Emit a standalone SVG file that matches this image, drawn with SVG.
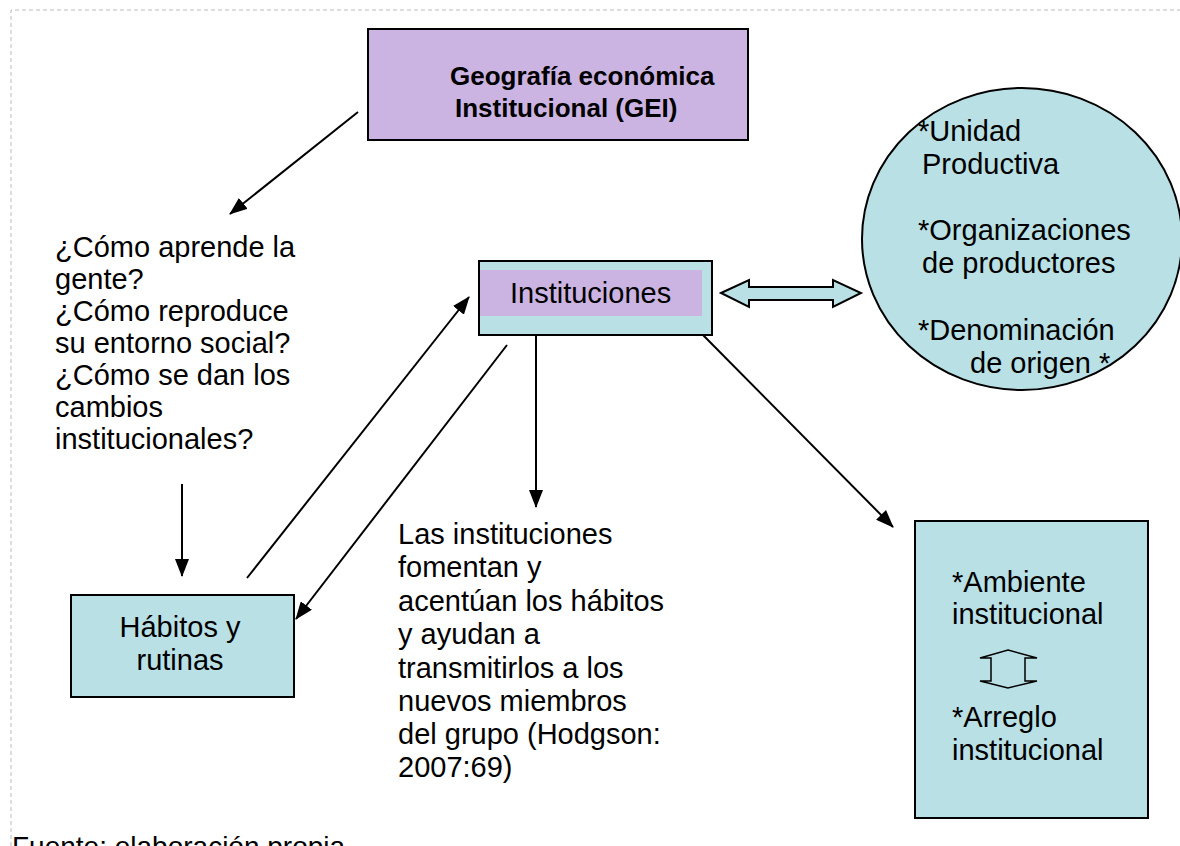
<svg xmlns="http://www.w3.org/2000/svg" width="1180" height="846" viewBox="0 0 1180 846">
<style>
.t{font-family:"Liberation Sans",Arial,sans-serif;font-size:29px;fill:#000}
.b{font-family:"Liberation Sans",Arial,sans-serif;font-size:26px;font-weight:bold;fill:#000}
.teal{fill:#b9e0e4;stroke:#000;stroke-width:2}
.lav{fill:#ccb4e2}
.con{stroke:#000;stroke-width:2;fill:none;marker-end:url(#ah)}
</style>
<defs>
<marker id="ah" viewBox="0 0 18 14" refX="17" refY="7" markerWidth="18" markerHeight="14" markerUnits="userSpaceOnUse" orient="auto">
<path d="M0,0 L18,7 L0,14 Z" fill="#000"/>
</marker>
</defs>
<rect width="1180" height="846" fill="#fff"/>
<path d="M11,846 L11,10 L1180,10" fill="none" stroke="#bbb" stroke-width="1" stroke-dasharray="4,3"/>

<g id="gei">
<rect x="368" y="29" width="380" height="111" class="lav" stroke="#000" stroke-width="2"/>
<text class="b" x="450" y="85">Geografía económica</text>
<text class="b" x="455" y="117">Institucional (GEI)</text>
</g>

<g id="preguntas">
<text class="t" x="55" y="257">¿Cómo aprende la</text>
<text class="t" x="55" y="289">gente?</text>
<text class="t" x="55" y="321">¿Cómo reproduce</text>
<text class="t" x="55" y="353">su entorno social?</text>
<text class="t" x="55" y="385">¿Cómo se dan los</text>
<text class="t" x="55" y="417">cambios</text>
<text class="t" x="55" y="449">institucionales?</text>
</g>

<g id="instituciones">
<rect x="479" y="261" width="233" height="74" class="teal"/>
<rect x="480" y="270" width="222" height="46" class="lav"/>
<text class="t" x="510" y="303">Instituciones</text>
</g>

<g id="doble-flecha">
<path d="M721,293 L749,280 L749,287 L833,287 L833,280 L861,293 L833,307 L833,300 L749,300 L749,307 Z" class="teal"/>
</g>

<g id="circulo">
<ellipse cx="1022" cy="239" rx="160" ry="151" class="teal"/>
<text class="t" x="918" y="141">*Unidad</text>
<text class="t" x="922" y="174">Productiva</text>
<text class="t" x="918" y="240">*Organizaciones</text>
<text class="t" x="922" y="273">de productores</text>
<text class="t" x="918" y="340">*Denominación</text>
<text class="t" x="970" y="373">de origen *</text>
</g>

<g id="habitos">
<rect x="71" y="595" width="223" height="102" class="teal"/>
<text class="t" x="180" y="637" text-anchor="middle">Hábitos y</text>
<text class="t" x="180" y="670" text-anchor="middle">rutinas</text>
</g>

<g id="texto-instituciones">
<text class="t" x="398" y="544">Las instituciones</text>
<text class="t" x="398" y="577">fomentan y</text>
<text class="t" x="398" y="611">acentúan los hábitos</text>
<text class="t" x="398" y="644">y ayudan a</text>
<text class="t" x="398" y="678">transmitirlos a los</text>
<text class="t" x="398" y="711">nuevos miembros</text>
<text class="t" x="398" y="744">del grupo (Hodgson:</text>
<text class="t" x="398" y="777">2007:69)</text>
</g>

<g id="arreglo">
<rect x="915" y="521" width="233" height="297" class="teal"/>
<text class="t" x="952" y="592">*Ambiente</text>
<text class="t" x="952" y="624">institucional</text>
<path d="M1008,650 L1037,658 L1025,658 L1025,681 L1037,681 L1008,688 L980,681 L991,681 L991,658 L980,658 Z" fill="none" stroke="#000" stroke-width="1.5"/>
<text class="t" x="952" y="727">*Arreglo</text>
<text class="t" x="952" y="760">institucional</text>
</g>

<g id="fuente">
<text class="t" x="12" y="856" style="font-size:28px">Fuente: elaboración propia</text>
</g>

<g id="conectores">
<line x1="358" y1="112" x2="230" y2="214" class="con"/>
<line x1="182" y1="484" x2="182" y2="576" class="con"/>
<line x1="247" y1="578" x2="469" y2="297" class="con"/>
<line x1="507" y1="345" x2="296" y2="619" class="con"/>
<line x1="536" y1="335" x2="536" y2="507" class="con"/>
<line x1="703" y1="335" x2="893" y2="527" class="con"/>
</g>
</svg>
